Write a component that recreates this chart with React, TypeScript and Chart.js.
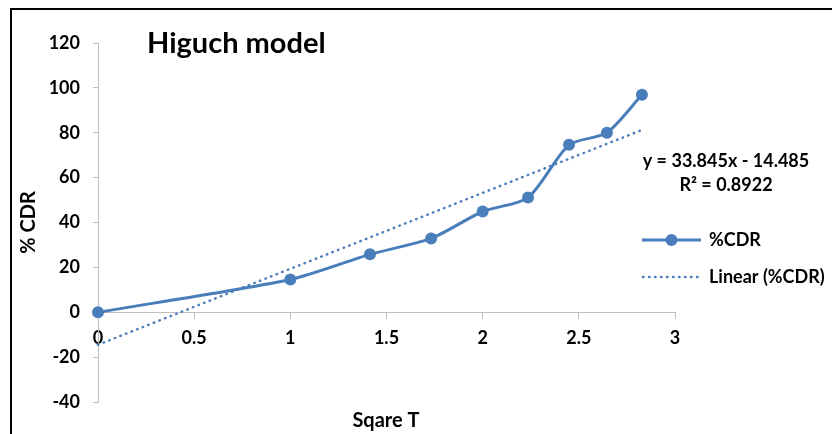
import { useEffect, useRef } from "react";
import { Chart, registerables } from "chart.js";

Chart.register(...registerables);

// ---- data ----
const sqrtT = [0, 1, 1.414, 1.732, 2, 2.236, 2.449, 2.646, 2.828];
const cdr = [0, 14.6, 25.8, 32.9, 44.9, 51.1, 74.6, 80.0, 96.9];
const trendX = [0, 2.828];
const trendY = [-14.485, 81.23];

const xMin = 0;
const xMax = 3;
const xStep = 0.5;
const yMin = -40;
const yMax = 120;
const yStep = 20;

const chartTitle = "Higuch model";
const xTitle = "Sqare T";
const yTitle = "% CDR";
const seriesName = "%CDR";
const trendName = "Linear (%CDR)";
const equationLines = ["y = 33.845x - 14.485", "R² = 0.8922"];

const BLUE = "#4a7ebb";
const AXIS = "#bfbfbf";
const FONT = "Lato, 'Open Sans', sans-serif";

const decor = {
  id: "decor",
  beforeDraw(chart: any) {
    const { ctx, width, height } = chart;
    ctx.save();
    ctx.fillStyle = "#ffffff";
    ctx.fillRect(0, 0, width, height);
    ctx.fillStyle = "#000000";
    ctx.fillRect(10, 8, width - 10, 2);
    ctx.fillRect(10, 8, 2, height - 8);
    ctx.restore();
  },
  afterDraw(chart: any) {
    const { ctx } = chart;
    ctx.save();
    ctx.fillStyle = "#000000";
    // chart title
    ctx.font = `bold 29px ${FONT}`;
    ctx.textAlign = "left";
    ctx.textBaseline = "alphabetic";
    ctx.fillText(chartTitle, 147, 53);
    // x axis title
    ctx.font = `bold 20px ${FONT}`;
    ctx.textAlign = "center";
    ctx.textBaseline = "middle";
    ctx.fillText(xTitle, 386, 421);
    // trendline equation
    ctx.font = `bold 18px ${FONT}`;
    ctx.fillText(equationLines[0], 726, 161);
    ctx.fillText(equationLines[1], 726, 185);
    // legend
    const lx0 = 642;
    const lx1 = 701;
    const ly1 = 240;
    const ly2 = 277;
    ctx.strokeStyle = BLUE;
    ctx.lineWidth = 3;
    ctx.beginPath();
    ctx.moveTo(lx0, ly1);
    ctx.lineTo(lx1, ly1);
    ctx.stroke();
    ctx.fillStyle = BLUE;
    ctx.beginPath();
    ctx.arc((lx0 + lx1) / 2, ly1, 6, 0, Math.PI * 2);
    ctx.fill();
    ctx.lineWidth = 2.5;
    ctx.lineCap = "round";
    ctx.setLineDash([0.5, 5.5]);
    ctx.beginPath();
    ctx.moveTo(lx0 + 1, ly2);
    ctx.lineTo(lx1, ly2);
    ctx.stroke();
    ctx.setLineDash([]);
    ctx.fillStyle = "#000000";
    ctx.textAlign = "left";
    ctx.font = `bold 18px ${FONT}`;
    ctx.fillText(seriesName, 709, ly1);
    ctx.fillText(trendName, 709, ly2);
    ctx.restore();
  },
};

export default function App() {
  const ref = useRef<HTMLCanvasElement>(null);

  useEffect(() => {
    if (!ref.current) return;
    const chart = new Chart(ref.current, {
      type: "line",
      data: {
        datasets: [
          {
            label: seriesName,
            data: sqrtT.map((x, i) => ({ x, y: cdr[i] })),
            borderColor: BLUE,
            backgroundColor: BLUE,
            borderWidth: 3,
            pointRadius: 6,
            pointBackgroundColor: BLUE,
            pointBorderColor: BLUE,
            pointBorderWidth: 0,
            tension: 0.25,
            clip: false as any,
            order: 2,
          },
          {
            label: trendName,
            data: trendX.map((x, i) => ({ x, y: trendY[i] })),
            borderColor: BLUE,
            borderWidth: 2.5,
            borderDash: [0.5, 5.5],
            borderCapStyle: "round",
            pointRadius: 0,
            tension: 0,
            clip: false as any,
            order: 1,
          },
        ],
      },
      options: {
        animation: false,
        responsive: false,
        devicePixelRatio: 1,
        layout: { padding: { left: 0, right: 157, top: 43, bottom: 32 } },
        plugins: {
          legend: { display: false },
          title: { display: false },
          tooltip: { enabled: false },
        },
        scales: {
          x: {
            type: "linear",
            position: { y: 0 } as any,
            min: xMin,
            max: xMax,
            grid: {
              display: true,
              drawOnChartArea: false,
              drawTicks: true,
              tickLength: 6,
              color: AXIS,
            },
            border: { display: true, color: AXIS, width: 1 },
            ticks: {
              stepSize: xStep,
              padding: 9,
              color: "#000000",
              font: { family: FONT, size: 18, weight: "bold" },
              maxRotation: 0,
              callback: (v: any) => String(Number(v)),
            },
          },
          y: {
            type: "linear",
            position: "left",
            min: yMin,
            max: yMax,
            afterFit(scale: any) {
              scale.width = 98;
            },
            grid: {
              display: true,
              drawOnChartArea: false,
              drawTicks: true,
              tickLength: 5,
              color: AXIS,
            },
            border: { display: true, color: AXIS, width: 1 },
            ticks: {
              stepSize: yStep,
              padding: 13,
              color: "#000000",
              font: { family: FONT, size: 18, weight: "bold" },
            },
            title: {
              display: true,
              text: yTitle,
              color: "#000000",
              font: { family: FONT, size: 20, weight: "bold" },
              padding: { top: 17, bottom: 0 },
            },
          },
        },
      },
      plugins: [decor],
    });
    return () => chart.destroy();
  }, []);

  return (
    <div style={{ position: "absolute", left: 0, top: 0, width: 832, height: 434 }}>
      <canvas ref={ref} width={832} height={434} style={{ display: "block" }} />
    </div>
  );
}
